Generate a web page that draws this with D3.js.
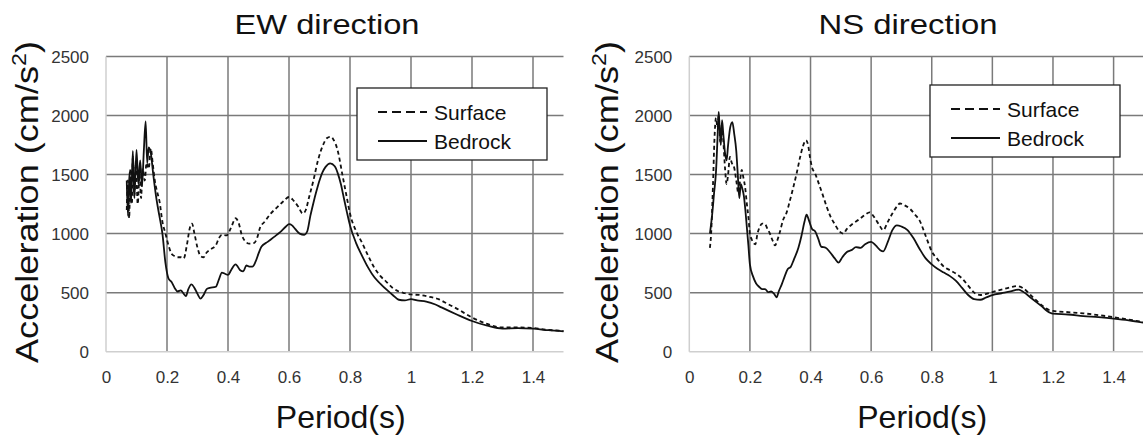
<!DOCTYPE html>
<html>
<head>
<meta charset="utf-8">
<script src="https://cdn.jsdelivr.net/npm/d3@7"></script>
<style>
  body { margin: 0; background: #fff; }
  svg text { font-family: "Liberation Sans", Arial, sans-serif; }
</style>
</head>
<body>
<div id="chart"></div>
<script>
// ---- data ----
const xTicks = [0, 0.2, 0.4, 0.6, 0.8, 1, 1.2, 1.4];
const yTicks = [0, 500, 1000, 1500, 2000, 2500];
const seriesNames = ["Surface", "Bedrock"];
const titles = ["EW direction", "NS direction"];

// EW direction
const ewSurfaceT = [0.068,0.072,0.076,0.08,0.085,0.088,0.093,0.098,0.104,0.11,0.115,0.12,0.127,0.133,0.14,0.147,0.153,0.16,0.168,0.175,0.185,0.195,0.205,0.215,0.225,0.235,0.245,0.255,0.265,0.275,0.282,0.29,0.3,0.31,0.32,0.33,0.345,0.36,0.37,0.38,0.395,0.41,0.425,0.435,0.445,0.455,0.47,0.485,0.495,0.505,0.52,0.54,0.56,0.58,0.6,0.615,0.63,0.645,0.655,0.665,0.68,0.695,0.71,0.725,0.735,0.745,0.76,0.775,0.79,0.8,0.82,0.84,0.86,0.88,0.9,0.92,0.94,0.96,0.98,1.0,1.03,1.06,1.09,1.12,1.15,1.2,1.25,1.3,1.35,1.4,1.45,1.5];
const ewSurfaceA = [1200,1450,1130,1550,1250,1650,1320,1600,1250,1500,1300,1550,1450,1600,1550,1720,1600,1450,1350,1280,1100,1000,900,830,810,800,800,790,900,1050,1085,1000,880,810,800,840,870,900,960,990,985,1050,1130,1090,990,940,915,920,960,1050,1100,1170,1220,1270,1310,1280,1230,1170,1200,1300,1450,1620,1740,1810,1820,1800,1700,1500,1300,1170,1020,920,810,710,640,590,540,510,495,485,480,465,445,405,365,290,235,205,205,200,185,175];
const ewBedrockT = [0.068,0.072,0.077,0.082,0.088,0.093,0.1,0.106,0.112,0.118,0.124,0.13,0.135,0.14,0.147,0.155,0.165,0.175,0.185,0.195,0.205,0.215,0.225,0.235,0.245,0.255,0.262,0.27,0.28,0.29,0.3,0.31,0.32,0.33,0.34,0.36,0.37,0.38,0.39,0.4,0.41,0.425,0.44,0.45,0.46,0.47,0.48,0.49,0.5,0.51,0.53,0.55,0.57,0.59,0.6,0.61,0.62,0.635,0.65,0.66,0.67,0.68,0.69,0.7,0.71,0.72,0.735,0.75,0.76,0.77,0.78,0.79,0.8,0.82,0.84,0.86,0.88,0.9,0.92,0.94,0.96,0.98,1.0,1.02,1.05,1.08,1.1,1.15,1.2,1.25,1.3,1.35,1.4,1.45,1.5];
const ewBedrockA = [1450,1150,1520,1260,1700,1300,1710,1420,1620,1400,1700,1950,1600,1730,1680,1500,1300,1150,1000,750,620,590,540,510,520,490,470,530,570,540,490,450,480,530,540,550,610,670,660,650,690,740,690,680,730,720,720,760,830,890,930,970,1010,1060,1080,1070,1040,1000,990,1020,1150,1260,1360,1450,1520,1565,1595,1570,1510,1420,1300,1180,1070,920,810,710,630,575,525,480,440,435,445,435,425,400,375,315,260,220,195,200,195,182,172];

// NS direction
const nsSurfaceT = [0.068,0.072,0.078,0.083,0.088,0.093,0.097,0.102,0.107,0.112,0.118,0.123,0.128,0.134,0.14,0.148,0.155,0.162,0.168,0.173,0.178,0.184,0.19,0.195,0.2,0.206,0.212,0.218,0.225,0.233,0.24,0.25,0.258,0.266,0.275,0.283,0.29,0.299,0.31,0.32,0.332,0.343,0.355,0.365,0.375,0.385,0.392,0.398,0.405,0.415,0.425,0.44,0.453,0.465,0.48,0.495,0.508,0.52,0.54,0.56,0.58,0.595,0.61,0.625,0.64,0.655,0.67,0.685,0.695,0.71,0.728,0.745,0.76,0.78,0.8,0.82,0.84,0.86,0.88,0.9,0.92,0.94,0.96,0.98,1.0,1.03,1.06,1.08,1.1,1.13,1.16,1.19,1.2,1.25,1.3,1.35,1.4,1.45,1.5];
const nsSurfaceA = [880,1000,1400,1800,1980,1900,2000,1780,1900,1790,1550,1420,1500,1650,1600,1560,1450,1340,1460,1540,1480,1395,1250,1140,1000,950,920,910,1000,1060,1085,1080,1040,1000,940,900,940,1015,1120,1170,1280,1390,1520,1640,1740,1790,1750,1650,1560,1510,1440,1330,1230,1150,1080,1020,1000,1040,1085,1120,1160,1180,1140,1080,1030,1100,1170,1230,1255,1240,1210,1160,1110,980,850,780,720,690,660,620,560,500,480,490,505,525,545,555,540,470,400,350,345,335,325,310,292,272,250];
const nsBedrockT = [0.068,0.075,0.082,0.088,0.093,0.097,0.1,0.104,0.108,0.112,0.118,0.123,0.128,0.135,0.142,0.148,0.155,0.16,0.165,0.17,0.175,0.18,0.185,0.19,0.195,0.2,0.21,0.22,0.23,0.24,0.25,0.26,0.27,0.28,0.288,0.295,0.305,0.315,0.325,0.335,0.345,0.36,0.37,0.38,0.387,0.395,0.405,0.415,0.425,0.435,0.45,0.465,0.48,0.492,0.505,0.52,0.535,0.55,0.565,0.58,0.6,0.615,0.63,0.64,0.655,0.67,0.685,0.7,0.72,0.74,0.76,0.78,0.8,0.82,0.84,0.86,0.88,0.9,0.92,0.94,0.96,0.98,1.0,1.03,1.06,1.085,1.1,1.13,1.16,1.19,1.2,1.25,1.3,1.35,1.4,1.45,1.5];
const nsBedrockA = [1000,1150,1350,1520,1800,2030,1900,1750,1960,1850,1680,1620,1750,1900,1945,1850,1700,1500,1300,1420,1380,1320,1200,1050,900,740,640,580,550,530,530,505,510,490,460,510,570,640,700,720,780,880,980,1100,1160,1110,1040,1020,960,890,880,840,790,755,800,845,860,885,880,910,930,900,860,850,930,1030,1070,1060,1030,960,870,790,740,700,670,640,600,540,480,445,440,460,480,495,510,525,510,450,390,330,322,315,302,292,280,265,245];

// ---- setup ----
const width = 1143, height = 438;
const svg = d3.select("#chart").append("svg")
    .attr("width", width)
    .attr("height", height);

const panels = [
    { left: 106, right: 563.5, top: 56.5, bottom: 351.7, title: titles[0], titleX: 327, titleW: 185,
      labelX: 38, legend: { x: 357, y: 88, w: 190, h: 72 },
      surface: [ewSurfaceT, ewSurfaceA], bedrock: [ewBedrockT, ewBedrockA] },
    { left: 689.3, right: 1143.9, top: 56.5, bottom: 351.7, title: titles[1], titleX: 908, titleW: 179,
      labelX: 618, legend: { x: 930, y: 85, w: 190, h: 72 },
      surface: [nsSurfaceT, nsSurfaceA], bedrock: [nsBedrockT, nsBedrockA] }
];

panels.forEach(p => {
    const x = d3.scaleLinear().domain([0, 1.5]).range([p.left, p.right]);
    const y = d3.scaleLinear().domain([0, 2500]).range([p.bottom, p.top]);
    const g = svg.append("g");

    // grid lines
    g.selectAll(".vgrid").data(xTicks.filter(d => d > 0)).join("line")
        .attr("x1", d => x(d)).attr("x2", d => x(d))
        .attr("y1", y(0)).attr("y2", y(2500))
        .attr("stroke", "#7a7a7a").attr("stroke-width", 1.5);
    g.selectAll(".hgrid").data(yTicks.filter(d => d > 0)).join("line")
        .attr("x1", x(0)).attr("x2", x(1.5))
        .attr("y1", d => y(d)).attr("y2", d => y(d))
        .attr("stroke", "#7a7a7a").attr("stroke-width", 1.5);

    // light axis lines
    g.append("line").attr("x1", x(0)).attr("x2", x(0)).attr("y1", y(0)).attr("y2", y(2500))
        .attr("stroke", "#cfcfcf").attr("stroke-width", 1.5);
    g.append("line").attr("x1", x(0)).attr("x2", x(1.5)).attr("y1", y(0)).attr("y2", y(0))
        .attr("stroke", "#cfcfcf").attr("stroke-width", 1.5);

    // axes (labels only)
    const yAxis = g.append("g")
        .attr("transform", `translate(${p.left - 17}, 0)`)
        .call(d3.axisLeft(y).tickValues(yTicks).tickFormat(d3.format("d")).tickSize(0).tickPadding(0));
    const xAxis = g.append("g")
        .attr("transform", `translate(0, ${p.bottom + 19})`)
        .call(d3.axisBottom(x).tickValues(xTicks).tickFormat(d => String(d)).tickSize(0).tickPadding(0));
    [yAxis, xAxis].forEach(a => {
        a.select(".domain").remove();
        a.selectAll("text")
            .attr("font-family", "'Liberation Sans', Arial, sans-serif")
            .attr("font-size", 17)
            .attr("fill", "#333");
    });
    yAxis.selectAll("text").attr("dy", "0.35em");
    xAxis.selectAll("text").attr("dy", "0.75em");

    // lines
    const line = d3.line()
        .x(d => x(d[0]))
        .y(d => y(d[1]))
        .curve(d3.curveMonotoneX);
    const toPts = s => s[0].map((t, i) => [t, s[1][i]]);

    g.append("path")
        .datum(toPts(p.surface))
        .attr("fill", "none").attr("stroke", "#111")
        .attr("stroke-width", 1.8).attr("stroke-dasharray", "4,3")
        .attr("d", line);
    g.append("path")
        .datum(toPts(p.bedrock))
        .attr("fill", "none").attr("stroke", "#111")
        .attr("stroke-width", 1.8)
        .attr("d", line);

    // legend
    const L = p.legend;
    const lg = g.append("g");
    lg.append("rect").attr("x", L.x).attr("y", L.y).attr("width", L.w).attr("height", L.h)
        .attr("fill", "#fff").attr("stroke", "#222").attr("stroke-width", 1.3);
    seriesNames.forEach((name, i) => {
        const cy = L.y + 24 + i * 29;
        lg.append("line")
            .attr("x1", L.x + 21).attr("x2", L.x + 70)
            .attr("y1", cy).attr("y2", cy)
            .attr("stroke", "#111").attr("stroke-width", 1.8)
            .attr("stroke-dasharray", i === 0 ? "9,5" : null);
        lg.append("text")
            .attr("x", L.x + 77).attr("y", cy).attr("dy", "0.36em")
            .attr("font-size", 21).attr("fill", "#111")
            .text(name);
    });

    // title
    g.append("text")
        .attr("x", p.titleX).attr("y", 34)
        .attr("text-anchor", "middle")
        .attr("font-size", 28).attr("fill", "#111")
        .attr("textLength", p.titleW).attr("lengthAdjust", "spacingAndGlyphs")
        .text(p.title);

    // x label
    g.append("text")
        .attr("x", (p.left + Math.min(p.right, width)) / 2 + 6).attr("y", 428)
        .attr("text-anchor", "middle")
        .attr("font-size", 32).attr("fill", "#111")
        .text("Period(s)");

    // y label
    const yl = g.append("text")
        .attr("transform", `translate(${p.labelX}, 202) rotate(-90)`)
        .attr("text-anchor", "middle")
        .attr("font-size", 31).attr("fill", "#111")
        .attr("textLength", 322).attr("lengthAdjust", "spacingAndGlyphs");
    yl.append("tspan").text("Acceleration (cm/s");
    yl.append("tspan").attr("font-size", 20).attr("dy", -12).text("2");
    yl.append("tspan").attr("dy", 12).text(")");
});
</script>
</body>
</html>
